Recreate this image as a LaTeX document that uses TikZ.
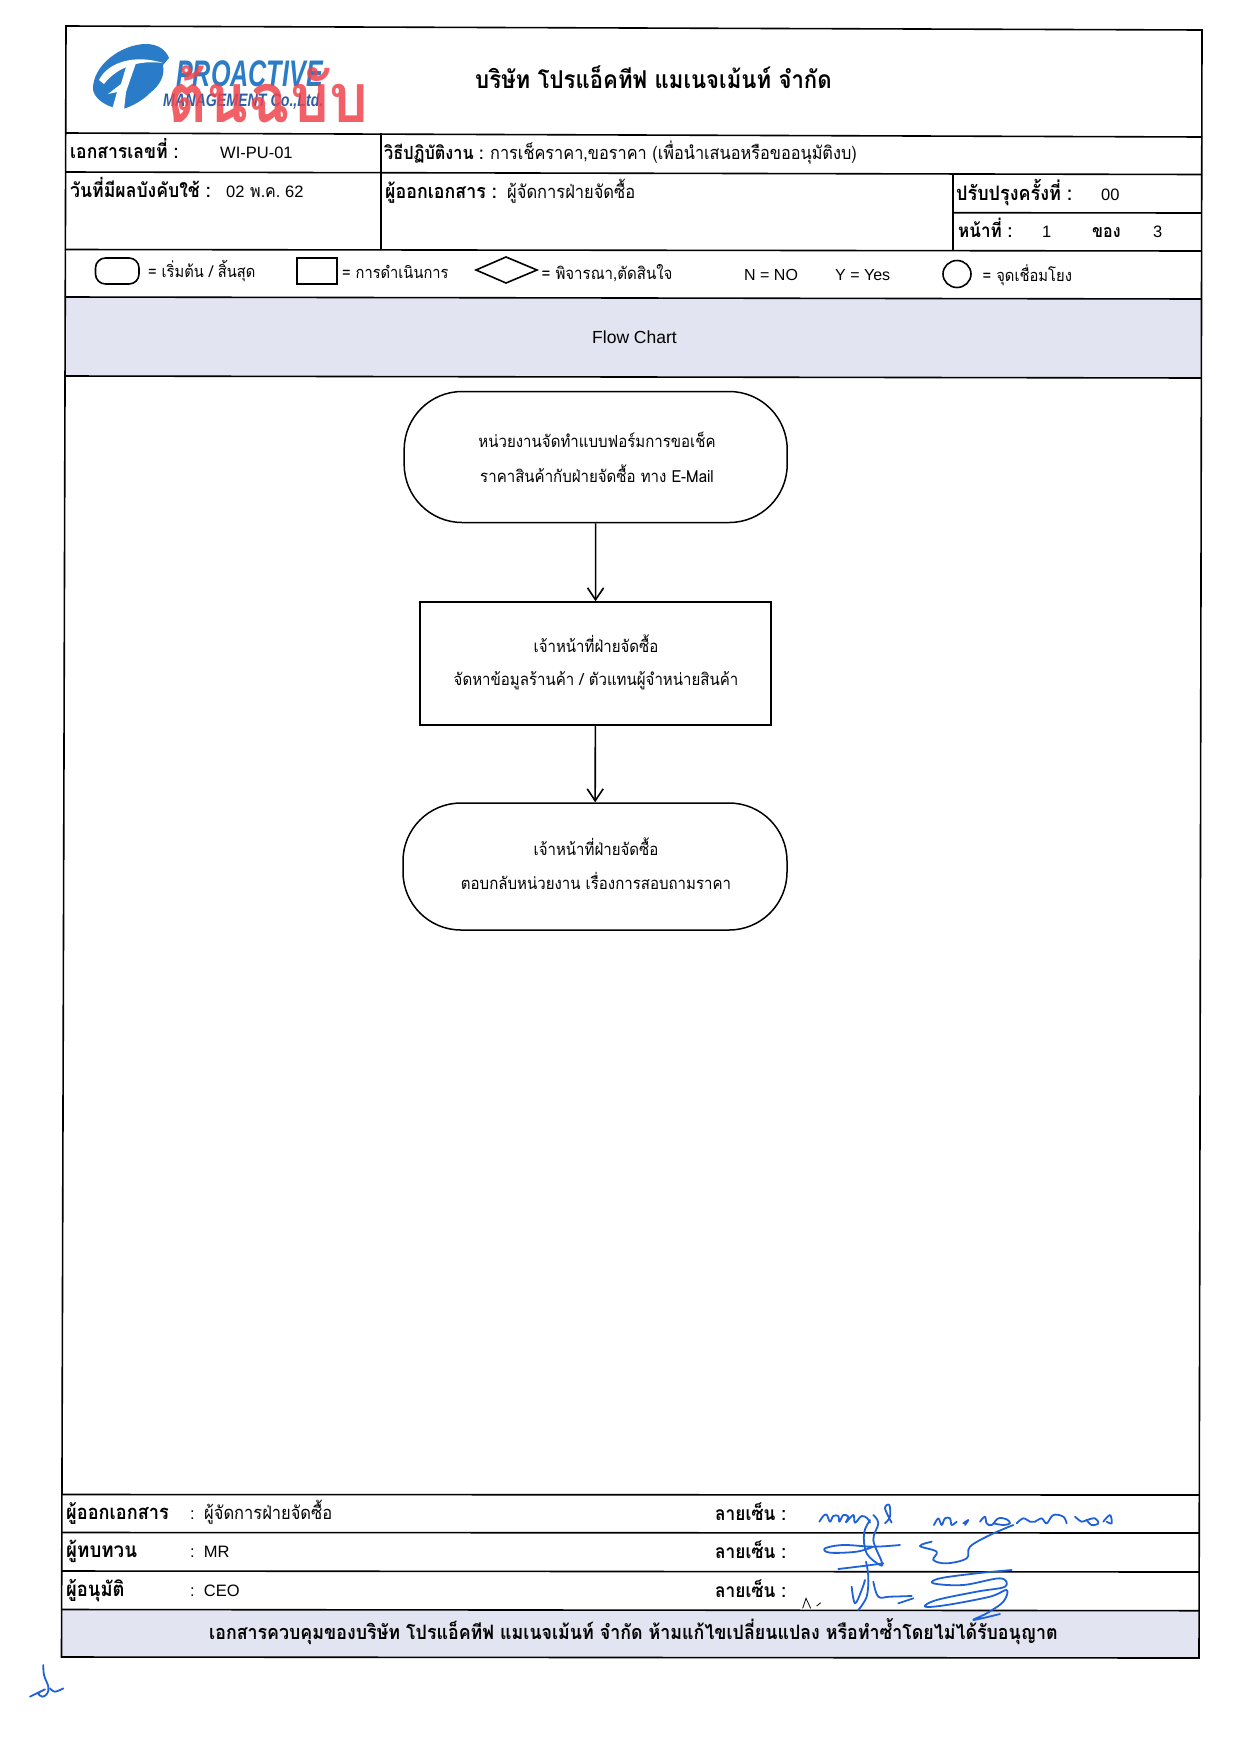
\documentclass[tikz,border=0pt]{standalone}
\usepackage{fontspec}
\setmainfont{Liberation Sans}
\newfontfamily\thaifont[Script=Thai,FakeStretch=0.9]{Loma}
\usetikzlibrary{arrows.meta,shapes.geometric}
\definecolor{bandgrey}{HTML}{E3E4F1}
\definecolor{logoblue}{HTML}{2A7CC8}
\definecolor{logodark}{HTML}{2C5FA8}
\definecolor{stampred}{HTML}{F0444C}
\definecolor{inkblue}{HTML}{1F62D8}
\newcommand{\thsize}[1]{\fontsize{#1}{#1}\selectfont\thaifont}
\newcommand{\ltsize}[1]{\fontsize{#1}{#1}\selectfont}
\tikzset{
  tabline/.style={line width=1.6pt},
  lbl/.style={anchor=base west,inner sep=0pt},
  flowtxt/.style={align=center,font=\thsize{16.7}},
  termbox/.style={draw,line width=1.5pt,rectangle,rounded corners=58pt,inner sep=0pt},
  stepbox/.style={draw,line width=1.5pt,rectangle,inner sep=0pt},
  ink/.style={draw=inkblue,line width=1.8pt,line cap=round,line join=round},
}
\begin{document}
\begin{tikzpicture}[x=1pt,y=-1pt,>={Straight Barb[length=12pt,width=16pt]}]
\useasboundingbox (0,0) rectangle (1240,1754);
% grey bands
\fill[bandgrey] (64.8,297) -- (1201.6,299) -- (1201.5,378) -- (64.6,376) -- cycle;
\fill[bandgrey] (61.7,1609.5) -- (1199.2,1610.7) -- (1199,1658) -- (61.5,1657) -- cycle;
% form lines
\draw[tabline] (66,26) -- (1202,30) -- (1199,1658) -- (61.5,1657) -- cycle;
\draw[tabline] (65.5,133) -- (1202,137);
\draw[tabline] (65.2,172) -- (1201.8,174.5);
\draw[tabline] (65,249.5) -- (1201.7,251);
\draw[tabline] (64.8,297) -- (1201.6,299);
\draw[tabline] (64.6,376) -- (1201.5,378);
\draw[tabline] (61.8,1494.5) -- (1199.3,1495);
\draw[tabline] (61.7,1532.5) -- (1199.3,1533);
\draw[tabline] (61.7,1571) -- (1199.2,1572);
\draw[tabline] (61.7,1609.5) -- (1199.2,1610.7);
\draw[tabline] (381,133) -- (381,250);
\draw[tabline] (953,174) -- (953,251);
\draw[tabline] (953,212.7) -- (1201.8,213);
% logo
\fill[logoblue] (93,90) .. controls (92,65) and (122,44) .. (146,44) .. controls (158,44) and (166,50) .. (169,58)
  -- (163,65) .. controls (165,76) and (160,85) .. (150,93) .. controls (143,100) and (133,106) .. (123,109) -- (112,107) .. controls (103,104) and (95,98) .. (93,90) -- cycle;
\fill[white] (99,80) .. controls (108,62) and (135,54) .. (163,63) .. controls (140,60) and (118,66) .. (104,84) -- cycle;
\fill[white] (126,67) -- (136,63) -- (126,92) -- (124,110) -- (112,110) -- (117,92) -- (108,94) -- (121,84) -- cycle;
\node[lbl,xscale=.68,text=logoblue] (logotop) at (176,86) {\ltsize{37}\bfseries\itshape PROACTIVE};
\node[lbl,xscale=.79,text=logodark] (logobot) at (163,106) {\ltsize{18}\bfseries\itshape MANAGEMENT Co.,Ltd.};
\node[lbl,text=stampred,opacity=.85] (stamp) at (167,122) {\thsize{68}\bfseries ต้นฉบับ};
% header
\node[lbl] (title) at (475,88) {\thsize{24.6}\bfseries บริษัท โปรแอ็คทีฟ แมเนจเม้นท์ จำกัด};
\node[lbl] (docno) at (70,158) {\thsize{19.5}\bfseries เอกสารเลขที่ :};
\node[lbl] (docnoval) at (220,158) {\ltsize{16.5}WI-PU-01};
\node[lbl] (proc) at (384,159) {\thsize{18.1}\bfseries วิธีปฏิบัติงาน :};
\node[lbl] (procval) at (490,159) {\thsize{18.1}การเช็คราคา,ขอราคา (เพื่อนำเสนอหรือขออนุมัติงบ)};
\node[lbl] (effdate) at (70,197) {\thsize{19.6}\bfseries วันที่มีผลบังคับใช้ :};
\node[lbl] (effday) at (226,197) {\ltsize{16.5}02};
\node[lbl] (effmon) at (250,197) {\thsize{17.8}พ.ค.};
\node[lbl] (effyear) at (285,197) {\ltsize{16.5}62};
\node[lbl] (issuer) at (385,198) {\thsize{19.8}\bfseries ผู้ออกเอกสาร :};
\node[lbl] (issuerval) at (507,198) {\thsize{18.3}ผู้จัดการฝ่ายจัดซื้อ};
\node[lbl] (rev) at (956,200) {\thsize{20}\bfseries ปรับปรุงครั้งที่ :};
\node[lbl] (revval) at (1101,200) {\ltsize{16.5}00};
\node[lbl] (page) at (958,237) {\thsize{18.9}\bfseries หน้าที่ :};
\node[lbl] (pageno) at (1042,237) {\ltsize{16.5}1};
\node[lbl] (pageof) at (1092,237) {\thsize{17.8}\bfseries ของ};
\node[lbl] (pagetot) at (1153,237) {\ltsize{16.5}3};
% legend
\draw[line width=1.6pt,rounded corners=10pt] (95.5,258) rectangle (139,284);
\node[lbl] (legterm) at (148,277) {\thsize{16.3}= เริ่มต้น / สิ้นสุด};
\draw[line width=1.6pt] (297,258) rectangle (336.7,284);
\node[lbl] (legstep) at (342,278) {\thsize{16.3}= การดำเนินการ};
\draw[line width=1.6pt] (476,270) -- (506,257) -- (537,270) -- (506,283) -- cycle;
\node[lbl] (legdec) at (541.5,279) {\thsize{16.7}= พิจารณา,ตัดสินใจ};
\node[lbl] (legno) at (744,280) {\ltsize{16}N = NO};
\node[lbl] (legyes) at (835,280) {\ltsize{16}Y = Yes};
\draw[line width=1.6pt] (957,274) ellipse (14 and 13.5);
\node[lbl] (legcon) at (982.5,281) {\thsize{16.4}= จุดเชื่อมโยง};
\node[lbl] (flowhead) at (592,343) {\ltsize{17.5}Flow Chart};
% flow
\node[termbox,minimum width=383pt,minimum height=131pt] (reqform) at (595.7,457) {};
\node[stepbox,minimum width=351pt,minimum height=123pt] (findsup) at (595.5,663.5) {};
\node[termbox,minimum width=384pt,minimum height=127pt] (reply) at (595,866.5) {};
\node[flowtxt] (reqtxt) at (597,457) {หน่วยงานจัดทำแบบฟอร์มการขอเช็ค\\[16pt]ราคาสินค้ากับฝ่ายจัดซื้อ ทาง E-Mail};
\node[flowtxt] (suptxt) at (596,662) {เจ้าหน้าที่ฝ่ายจัดซื้อ\\[16pt]จัดหาข้อมูลร้านค้า / ตัวแทนผู้จำหน่ายสินค้า};
\node[flowtxt] (reptxt) at (596,864) {เจ้าหน้าที่ฝ่ายจัดซื้อ\\[16pt]ตอบกลับหน่วยงาน เรื่องการสอบถามราคา};
\draw[line width=1.6pt,->] (reqform) -- (findsup);
\draw[line width=1.6pt,->] (findsup) -- (reply);
% sign-off rows
\node[lbl] (sign1) at (66,1519) {\thsize{20.2}\bfseries ผู้ออกเอกสาร};
\node[lbl] (sign1col) at (190,1519) {\ltsize{16.5}:};
\node[lbl] (sign1val) at (204,1519) {\thsize{18.3}ผู้จัดการฝ่ายจัดซื้อ};
\node[lbl] (sign2) at (66,1557) {\thsize{20.8}\bfseries ผู้ทบทวน};
\node[lbl] (sign2val) at (190,1557) {\ltsize{16.5}:\ \ MR};
\node[lbl] (sign3) at (66,1596) {\thsize{20.4}\bfseries ผู้อนุมัติ};
\node[lbl] (sign3val) at (190,1596) {\ltsize{16.5}:\ \ CEO};
\node[lbl] (ink1) at (715,1520) {\thsize{19.2}\bfseries ลายเซ็น :};
\node[lbl] (ink2) at (715,1558) {\thsize{19.2}\bfseries ลายเซ็น :};
\node[lbl] (ink3) at (715,1597) {\thsize{19.2}\bfseries ลายเซ็น :};
\node[lbl] (footer) at (209,1639) {\thsize{19.8}\bfseries เอกสารควบคุมของบริษัท โปรแอ็คทีฟ แมเนจเม้นท์ จำกัด ห้ามแก้ไขเปลี่ยนแปลง หรือทำซ้ำโดยไม่ได้รับอนุญาต};
% signatures
\begin{scope}[shift={(790,1490)},x=.3333pt,y=-.3333pt]
\draw[ink] plot[smooth,tension=.6] coordinates {(88,95)(100,78)(110,74)(120,95)(130,78)(145,78)(148,95)(160,75)(175,80)(168,97)(190,75)(195,98)(215,78)(232,85)(240,98)};
\draw[ink] plot[smooth,tension=.6] coordinates {(285,100)(300,80)(298,45)(285,55)(305,98)};
\draw[ink] plot[smooth,tension=.6] coordinates {(432,105)(445,85)(455,105)(465,85)(480,85)(485,105)(500,95)};
\draw[ink] plot[smooth,tension=.6] coordinates {(520,100)(535,90)(525,105)};
\draw[ink] plot[smooth,tension=.6] coordinates {(570,95)(585,80)(590,100)(605,105)(625,85)(650,88)(660,100)(640,105)(610,100)};
\draw[ink] plot[smooth,tension=.6] coordinates {(680,100)(700,85)(720,95)(735,95)(755,85)(770,100)(790,75)(820,80)(830,100)};
\draw[ink] plot[smooth,tension=.6] coordinates {(855,80)(875,95)(890,90)(915,85)(925,100)(905,105)(890,90)};
\draw[ink] plot[smooth,tension=.6] coordinates {(940,95)(960,75)(965,100)(950,95)};
\draw[ink] plot[smooth,tension=.6] coordinates {(330,165)(250,170)(160,165)(105,175)(120,188)(200,185)(250,170)};
\draw[ink] plot[smooth,tension=.6] coordinates {(240,90)(222,130)(230,190)(270,225)(275,215)(250,150)(265,100)(250,75)};
\draw[ink] plot[smooth,tension=.6] coordinates {(145,237)(220,228)(280,220)};
\draw[ink] plot[smooth,tension=.6] coordinates {(425,155)(390,168)(440,185)(430,210)(470,220)(530,205)(540,170)(600,135)(670,105)};
\draw[ink] plot[smooth,tension=.6] coordinates {(228,215)(235,260)(230,320)(205,360)};
\draw[ink] plot[smooth,tension=.6] coordinates {(185,290)(195,340)(215,300)(225,270)};
\draw[ink] plot[smooth,tension=.6] coordinates {(250,275)(265,320)(300,320)(365,318)};
\draw[ink] plot[smooth,tension=.6] coordinates {(325,340)(370,325)};
\draw[ink] plot[smooth,tension=.6] coordinates {(665,240)(560,250)(450,265)(430,280)(520,285)(630,265)(645,290)(560,305)(440,330)(405,350)(470,345)(600,320)(650,300)(640,335)(590,370)(550,390)(630,372)};
\draw[line width=.8pt] (38,355) -- (48,325) -- (62,355);
\draw[line width=.8pt] (80,348) -- (92,338);
\end{scope}
\begin{scope}[shift={(20,1650)},x=.3333pt,y=-.3333pt]
\draw[ink] plot[smooth,tension=.6] coordinates {(70,45)(72,75)(85,110)(82,130)(68,140)(55,130)(75,118)(30,140)};
\draw[ink] plot[smooth,tension=.6] coordinates {(90,115)(105,125)(130,115)};
\end{scope}
\end{tikzpicture}
\end{document}
